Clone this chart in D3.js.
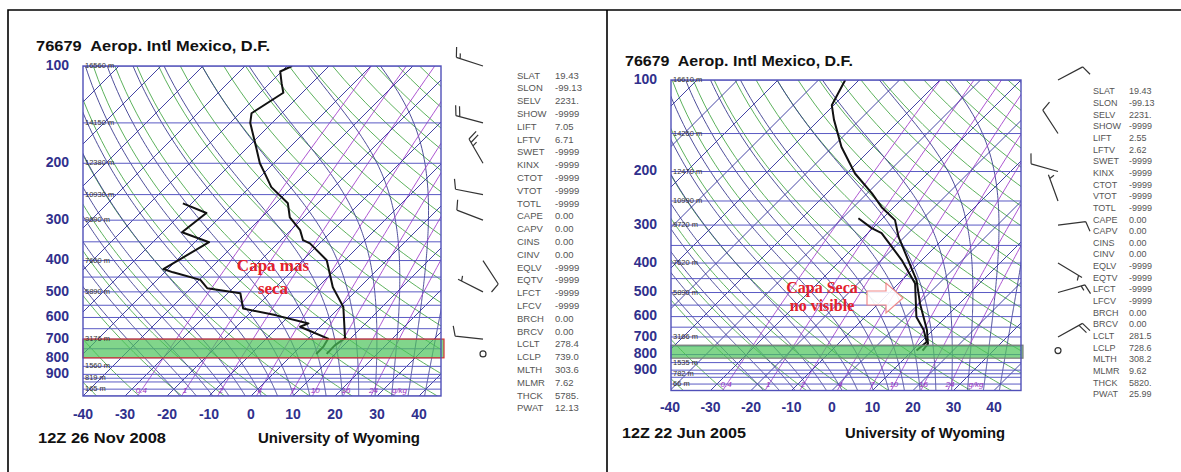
<!DOCTYPE html>
<html>
<head>
<meta charset="utf-8">
<script src="https://cdn.jsdelivr.net/npm/d3@7"></script>
<style>
  body { margin: 0; background: #fff; }
  svg { display: block; }
</style>
</head>
<body>
<svg id="chart" width="1181" height="472"></svg>
<script>
// ---------------- chart values ----------------
const stationTitle = "76679  Aerop. Intl Mexico, D.F.";
const pressureTicks = [100, 200, 300, 400, 500, 600, 700, 800, 900];
const tempTicks = [-40, -30, -20, -10, 0, 10, 20, 30, 40];
const isobarLevels = d3.range(100, 1051, 50).concat([925]);
const isothermValues = d3.range(-130, 61, 10);
const dryAdiabatThetas = d3.range(-40, 201, 10);      // potential temperature, °C
const moistAdiabatStarts = d3.range(-20, 41, 4);      // temperature at 1000 hPa, °C
const mixingRatios = [0.4, 1, 2, 4, 7, 10, 16, 24];   // g/kg
const mixingLabels = ["0.4", "1", "2", "4", "7", "10", "16", "24"];

const statLabels = ["SLAT","SLON","SELV","SHOW","LIFT","LFTV","SWET","KINX","CTOT","VTOT","TOTL",
  "CAPE","CAPV","CINS","CINV","EQLV","EQTV","LFCT","LFCV","BRCH","BRCV","LCLT","LCLP","MLTH","MLMR","THCK","PWAT"];

// 12Z 26 Nov 2008
const novStats = ["19.43","-99.13","2231.","-9999","7.05","6.71","-9999","-9999","-9999","-9999","-9999",
  "0.00","0.00","0.00","0.00","-9999","-9999","-9999","-9999","0.00","0.00","278.4","739.0","303.6","7.62","5785.","12.13"];
const novTempP = [778, 732, 695, 557, 519, 484, 399, 354, 346, 322, 294, 266, 237, 215, 200, 170, 150, 140, 121, 113, 104, 100];
const novTempC = [8.0, 7.9, 8.6, 0.8, -2.8, -6.4, -14.3, -22.3, -24.7, -27.8, -33.3, -37.1, -44.9, -49.7, -53.3, -60.0, -65.2, -67.2, -64.5, -67.2, -70.3, -68.8];
const novDewP = [778, 740, 698, 641, 626, 590, 563, 505, 487, 459, 435, 425, 351, 327, 285, 266];
const novDewC = [5.5, 5.5, 4.7, -4.8, -3.6, -13.5, -22.7, -27.0, -36.1, -39.7, -48.0, -51.1, -46.6, -55.4, -54.2, -62.1];
const novWindP = [100, 150, 200, 250, 300, 400, 500, 700, 778];
const novWindDir = [288, 285, 330, 281, 291, 147, 297, 276, 0];
const novWindKt = [15, 20, 25, 10, 10, 10, 5, 10, 0];
const novHeightP = [100, 150, 200, 250, 300, 400, 500, 700, 850, 925, 1000];
const novHeightLbl = ["16560 m","14150 m","12380 m","10930 m","9690 m","7600 m","5890 m","3176 m","1560 m","819 m","165 m"];

// 12Z 22 Jun 2005
const junStats = ["19.43","-99.13","2231.","-9999","2.55","2.62","-9999","-9999","-9999","-9999","-9999",
  "0.00","0.00","0.00","0.00","-9999","-9999","-9999","-9999","0.00","0.00","281.5","728.6","308.2","9.62","5820.","25.99"];
const junTempP = [776, 738, 664, 544, 455, 421, 328, 289, 262, 236, 203, 166, 135, 121, 100];
const junTempC = [12.5, 12.2, 8.5, 0.3, -6.4, -10.0, -21.5, -26.5, -33.0, -38.8, -47.9, -57.8, -66.4, -70.5, -73.4];
const junDewP = [776, 727, 664, 602, 467, 391, 319, 307, 285];
const junDewC = [11.0, 11.4, 7.7, 2.7, -5.9, -15.0, -26.6, -30.3, -36.0];
const junWindP = [100, 150, 200, 250, 300, 400, 500, 700, 776];
const junWindDir = [62, 327, 286, 340, 83, 121, 74, 61, 0];
const junWindKt = [10, 10, 10, 5, 10, 5, 15, 20, 0];
const junHeightP = [100, 150, 200, 250, 300, 400, 500, 700, 850, 925, 1000];
const junHeightLbl = ["16610 m","14260 m","12470 m","10990 m","9720 m","7620 m","5890 m","3166 m","1535 m","782 m","66 m"];

// ---------------- layout ----------------
const panels = [
  {
    id: "nov", top: 66, bottom: 396, left: 83, right: 441, xm40: 83, xp40: 419,
    titleX: 36, titleY: 51, titleW: 234, pLabelX: 69, tLabelY: 415,
    footY: 443, footL: 38, footR: 258, dateW: 128, uniW: 162,
    date: "12Z 26 Nov 2008", barbX: 483, statX: 517, statValX: 555, statY: 76, statDy: 12.8, statSize: 9.5,
    band: [700, 800], bandStroke: "#d83030", bandRight: 444,
    note: ["Capa mas", "seca"], noteX: 273, noteY: [271, 294], noteSize: 17, arrow: null,
    stats: novStats, tP: novTempP, tC: novTempC, dP: novDewP, dC: novDewC,
    wP: novWindP, wD: novWindDir, wK: novWindKt, hP: novHeightP, hL: novHeightLbl
  },
  {
    id: "jun", top: 80, bottom: 390.5, left: 671, right: 1021, xm40: 670, xp40: 994,
    titleX: 625, titleY: 66, titleW: 228, pLabelX: 657, tLabelY: 408,
    footY: 438, footL: 622, footR: 845, dateW: 124, uniW: 160,
    date: "12Z 22 Jun 2005", barbX: 1058, statX: 1093, statValX: 1129, statY: 92, statDy: 11.65, statSize: 9,
    band: [745, 822], bandStroke: "#7a7a7a", bandRight: 1023,
    note: ["Capa Seca", "no visible"], noteX: 822, noteY: [293, 311], noteSize: 16,
    arrow: { x0: 867, x1: 886, x2: 903, yc: 298, body: 7, head: 15 },
    stats: junStats, tP: junTempP, tC: junTempC, dP: junDewP, dC: junDewC,
    wP: junWindP, wD: junWindDir, wK: junWindKt, hP: junHeightP, hL: junHeightLbl
  }
];

// ---------------- thermodynamics for the background grid ----------------
const satVap = t => 6.112 * Math.exp(17.67 * t / (t + 243.5));
function dewFromMix(w, p) {
  const e = w * p / (622 + w);
  const l = Math.log(e / 6.112);
  return 243.5 * l / (17.67 - l);
}
function moistLapse(t, p) {
  const tk = t + 273.15, es = satVap(t), rs = 0.622 * es / (p - es);
  const Rd = 287.04, cp = 1005.7, Lv = 2.501e6;
  return ((Rd * tk + Lv * rs) / p) / (cp + Lv * Lv * rs * 0.622 / (Rd * tk * tk));
}
function moistCurve(t1000) {
  const pts = [];
  let t = t1000, p = 1000;
  const below = [];
  while (p < 1050) {
    const dp = 5;
    const k1 = moistLapse(t, p), k2 = moistLapse(t + k1 * dp, p + dp);
    t += 0.5 * (k1 + k2) * dp; p += dp;
    below.push([p, t]);
  }
  below.reverse().forEach(d => pts.push(d));
  t = t1000; p = 1000; pts.push([p, t]);
  while (p > 100) {
    const dp = -5;
    const k1 = moistLapse(t, p), k2 = moistLapse(t + k1 * dp, p + dp);
    t += 0.5 * (k1 + k2) * dp; p += dp;
    pts.push([p, t]);
  }
  return pts;
}
const pSteps = d3.range(1050, 99, -10);

const svg = d3.select("#chart");
const FONT = "'Liberation Sans', Arial, sans-serif";

// outer frame and divider
svg.append("path")
  .attr("d", "M8,472 L8,10 L1181,10 M607,10 L607,472")
  .attr("fill", "none").attr("stroke", "#000").attr("stroke-width", 1.6);

panels.forEach(cfg => {
  const g = svg.append("g");
  const y = d3.scaleLog().domain([100, 1050]).range([cfg.top, cfg.bottom]);
  const xt = d3.scaleLinear().domain([-40, 40]).range([cfg.xm40, cfg.xp40]);
  const yb = y(1050);
  const X = (t, p) => xt(t) + (yb - y(p));
  const line = d3.line().x(d => X(d[1], d[0])).y(d => y(d[0]));

  const clipId = "clip-" + cfg.id;
  g.append("clipPath").attr("id", clipId)
    .append("rect").attr("x", cfg.left).attr("y", cfg.top)
    .attr("width", cfg.right - cfg.left).attr("height", cfg.bottom - cfg.top);
  const plot = g.append("g").attr("clip-path", `url(#${clipId})`);

  // dry adiabats
  plot.append("g").selectAll("path").data(dryAdiabatThetas).join("path")
    .attr("d", th => line(pSteps.map(p => [p, (th + 273.15) * Math.pow(p / 1000, 0.2857) - 273.15])))
    .attr("fill", "none").attr("stroke", "#4aa84a").attr("stroke-width", 0.9);

  // moist adiabats
  plot.append("g").selectAll("path").data(moistAdiabatStarts).join("path")
    .attr("d", t0 => line(moistCurve(t0)))
    .attr("fill", "none").attr("stroke", "#3b3b8f").attr("stroke-width", 0.9);

  // mixing ratio lines
  plot.append("g").selectAll("path").data(mixingRatios).join("path")
    .attr("d", w => line(pSteps.map(p => [p, dewFromMix(w, p)])))
    .attr("fill", "none").attr("stroke", "#a443cc").attr("stroke-width", 0.9);

  // isotherms
  plot.append("g").selectAll("line").data(isothermValues).join("line")
    .attr("x1", t => X(t, 1050)).attr("y1", y(1050))
    .attr("x2", t => X(t, 100)).attr("y2", y(100))
    .attr("stroke", "#2f2f9a").attr("stroke-width", 0.9);

  // isobars
  plot.append("g").selectAll("line").data(isobarLevels).join("line")
    .attr("x1", cfg.left).attr("x2", cfg.right)
    .attr("y1", p => y(p)).attr("y2", p => y(p))
    .attr("stroke", "#5a5ac4").attr("stroke-width", 1);

  // highlighted low layer
  g.append("rect")
    .attr("x", cfg.left).attr("y", y(cfg.band[0]))
    .attr("width", cfg.bandRight - cfg.left).attr("height", y(cfg.band[1]) - y(cfg.band[0]))
    .attr("fill", "#4cc35a").attr("fill-opacity", 0.7)
    .attr("stroke", cfg.bandStroke).attr("stroke-width", 1.2);

  // mixing ratio labels
  plot.append("g").selectAll("text").data(mixingRatios).join("text")
    .attr("x", w => X(dewFromMix(w, 1010), 1010)).attr("y", y(1010))
    .attr("text-anchor", "middle").attr("dominant-baseline", "middle")
    .attr("font-family", FONT).attr("font-size", 8).attr("font-style", "italic")
    .attr("fill", "#9a30c0")
    .text((w, i) => mixingLabels[i]);
  plot.append("text")
    .attr("x", X(dewFromMix(24, 1010), 1010) + 26).attr("y", y(1010))
    .attr("text-anchor", "middle").attr("dominant-baseline", "middle")
    .attr("font-family", FONT).attr("font-size", 8).attr("font-style", "italic")
    .attr("fill", "#9a30c0").text("g/kg");

  // plot border
  g.append("rect").attr("x", cfg.left).attr("y", cfg.top)
    .attr("width", cfg.right - cfg.left).attr("height", cfg.bottom - cfg.top)
    .attr("fill", "none").attr("stroke", "#5050b8").attr("stroke-width", 1.4);

  // heights of the standard levels
  g.append("g").selectAll("text").data(cfg.hP).join("text")
    .attr("x", cfg.left + 2).attr("y", p => y(p))
    .attr("dominant-baseline", "middle")
    .attr("font-family", FONT).attr("font-size", 7.5).attr("fill", "#333")
    .text((p, i) => cfg.hL[i]);

  // temperature and dew point
  const tData = cfg.tP.map((p, i) => [p, cfg.tC[i]]);
  const dData = cfg.dP.map((p, i) => [p, cfg.dC[i]]);
  plot.append("path").attr("d", line(dData))
    .attr("fill", "none").attr("stroke", "#111").attr("stroke-width", 2).attr("stroke-linejoin", "round");
  plot.append("path").attr("d", line(tData))
    .attr("fill", "none").attr("stroke", "#111").attr("stroke-width", 2).attr("stroke-linejoin", "round");

  // annotation
  g.append("g").selectAll("text").data(cfg.note).join("text")
    .attr("x", cfg.noteX).attr("y", (d, i) => cfg.noteY[i])
    .attr("text-anchor", "middle")
    .attr("font-family", "'Liberation Serif', 'Times New Roman', serif")
    .attr("font-weight", "bold").attr("font-size", cfg.noteSize)
    .attr("fill", "#e4212b").text(d => d);
  if (cfg.arrow) {
    const a = cfg.arrow;
    const pts = [[a.x0, a.yc - a.body], [a.x1, a.yc - a.body], [a.x1, a.yc - a.head], [a.x2, a.yc],
                 [a.x1, a.yc + a.head], [a.x1, a.yc + a.body], [a.x0, a.yc + a.body]];
    g.append("polygon").attr("points", pts.map(d => d.join(",")).join(" "))
      .attr("fill", "#fff").attr("fill-opacity", 0.9)
      .attr("stroke", "#f08a8a").attr("stroke-width", 1.2);
  }

  // axes labels
  g.append("g").selectAll("text").data(pressureTicks).join("text")
    .attr("x", cfg.pLabelX).attr("y", p => y(p))
    .attr("text-anchor", "end").attr("dominant-baseline", "middle")
    .attr("font-family", FONT).attr("font-weight", "bold").attr("font-size", 14)
    .attr("fill", "#30308c").text(d => d);
  g.append("g").selectAll("text").data(tempTicks).join("text")
    .attr("x", t => xt(t)).attr("y", cfg.tLabelY)
    .attr("text-anchor", "middle").attr("dominant-baseline", "middle")
    .attr("font-family", FONT).attr("font-weight", "bold").attr("font-size", 14)
    .attr("fill", "#30308c").text(d => d);

  // title and footer
  g.append("text").attr("x", cfg.titleX).attr("y", cfg.titleY)
    .attr("font-family", FONT).attr("font-weight", "bold").attr("font-size", 15)
    .attr("textLength", cfg.titleW).attr("lengthAdjust", "spacingAndGlyphs")
    .attr("fill", "#111").attr("xml:space", "preserve").text(stationTitle);
  g.append("text").attr("x", cfg.footL).attr("y", cfg.footY)
    .attr("font-family", FONT).attr("font-weight", "bold").attr("font-size", 14.5)
    .attr("textLength", cfg.dateW).attr("lengthAdjust", "spacingAndGlyphs")
    .attr("fill", "#111").text(cfg.date);
  g.append("text").attr("x", cfg.footR).attr("y", cfg.footY)
    .attr("font-family", FONT).attr("font-weight", "bold").attr("font-size", 14.5)
    .attr("textLength", cfg.uniW).attr("lengthAdjust", "spacingAndGlyphs")
    .attr("fill", "#111").text("University of Wyoming");

  // station indices
  const st = g.append("g").attr("font-family", FONT).attr("font-size", cfg.statSize).attr("fill", "#555");
  st.selectAll("text.lab").data(statLabels).join("text").attr("class", "lab")
    .attr("x", cfg.statX).attr("y", (d, i) => cfg.statY + i * cfg.statDy)
    .attr("dominant-baseline", "middle").text(d => d);
  st.selectAll("text.val").data(cfg.stats).join("text").attr("class", "val")
    .attr("x", cfg.statValX).attr("y", (d, i) => cfg.statY + i * cfg.statDy)
    .attr("dominant-baseline", "middle").text(d => d);

  // wind barbs
  const wb = g.append("g").attr("fill", "none").attr("stroke", "#333").attr("stroke-width", 1.2);
  cfg.wP.forEach((p, i) => {
    const sx = cfg.barbX, sy = y(p), kt = cfg.wK[i];
    if (kt < 2.5) {
      wb.append("circle").attr("cx", sx).attr("cy", sy).attr("r", 3);
      return;
    }
    const r = cfg.wD[i] * Math.PI / 180, L = 28;
    const ux = Math.sin(r), uy = -Math.cos(r), px = -uy, py = ux;
    const ex = sx + ux * L, ey = sy + uy * L;
    let d = `M${sx},${sy}L${ex},${ey}`;
    let rem = Math.round(kt / 5) * 5, pos = 0;
    while (rem >= 10) {
      const bx = ex - ux * pos, by = ey - uy * pos;
      d += `M${bx},${by}L${bx + px * 10 + ux * 3},${by + py * 10 + uy * 3}`;
      rem -= 10; pos += 4;
    }
    if (rem >= 5) {
      if (pos === 0) pos = 4;
      const bx = ex - ux * pos, by = ey - uy * pos;
      d += `M${bx},${by}L${bx + px * 5 + ux * 1.5},${by + py * 5 + uy * 1.5}`;
    }
    wb.append("path").attr("d", d);
  });
});
</script>
</body>
</html>
